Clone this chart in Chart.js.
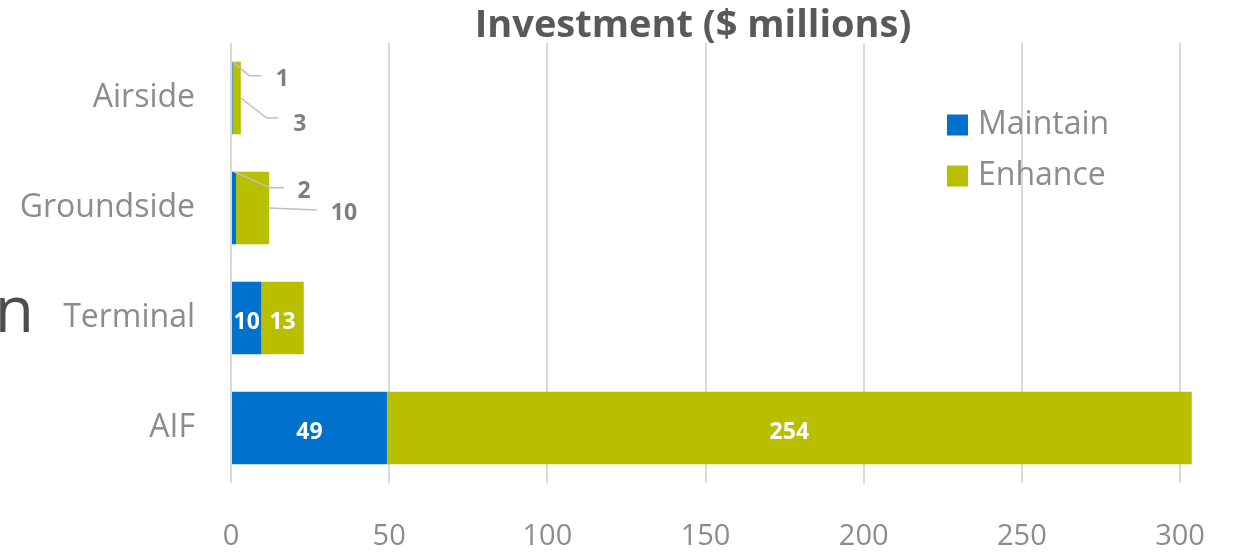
<!DOCTYPE html>
<html lang="en">
<head>
  <meta charset="UTF-8">
  <title>Investment ($ millions)</title>
  <script src="https://cdn.jsdelivr.net/npm/chart.js"></script>
  <style>
    body { margin: 0; background: #fff; }
    .wrap { width: 1235px; height: 553px; position: relative; }
  </style>
</head>
<body>
  <div class="wrap">
    <canvas id="investChart"></canvas>
  </div>

  <script>
    // Chart data
    const categories = ['Airside', 'Groundside', 'Terminal', 'AIF'];
    const maintain = [0.5, 1.6, 9.6, 49.3];
    const enhance = [2.6, 10.4, 13.4, 254.4];
    const xTicks = [0, 50, 100, 150, 200, 250, 300];

    const colors = {
      maintain: '#0072CE',
      enhance: '#B7BF00',
      grid: '#D9D9D9',
      text: '#8C8C8C',
      title: '#595959',
      outLabel: '#7F7F7F',
      leader: '#BFBFBF'
    };
    const FONT = "'Open Sans', 'DejaVu Sans', sans-serif";

    // small bars get their label outside with a leader line
    // offsets are relative to the anchor point on the bar
    const callouts = {
      '0-0': { anchor: 'top', pts: [[17, 14], [29, 14]], label: [50, 18] },
      '0-1': { anchor: 'top', pts: [[36, 16], [50, 16]], label: [70, 20] },
      '1-0': { anchor: 'end', pts: [[26, 20], [37, 20]], label: [59, 26] },
      '1-1': { anchor: 'end', pts: [[48, 2]], label: [75, 5] }
    };

    const decorPlugin = {
      id: 'decor',
      afterDatasetsDraw(chart) {
        const ctx = chart.ctx;
        ctx.save();

        // labels on bars
        chart.data.datasets.forEach((ds, di) => {
          const meta = chart.getDatasetMeta(di);
          meta.data.forEach((bar, i) => {
            const txt = String(Math.round(ds.data[i]));
            const c = callouts[di + '-' + i];
            ctx.font = 'bold 23px ' + FONT;
            ctx.textAlign = 'center';
            ctx.textBaseline = 'middle';
            if (c) {
              const left = Math.min(bar.x, bar.base);
              const right = Math.max(bar.x, bar.base);
              let ax, ay;
              if (c.anchor === 'top') {
                ax = (left + right) / 2;
                ay = bar.y - bar.height / 2;
              } else {
                ax = right;
                ay = bar.y;
              }
              ctx.strokeStyle = colors.leader;
              ctx.lineWidth = 1.5;
              ctx.beginPath();
              ctx.moveTo(ax, ay);
              c.pts.forEach(p => ctx.lineTo(ax + p[0], ay + p[1]));
              ctx.stroke();
              ctx.fillStyle = colors.outLabel;
              ctx.fillText(txt, ax + c.label[0], ay + c.label[1]);
            } else {
              ctx.fillStyle = '#FFFFFF';
              ctx.fillText(txt, (bar.x + bar.base) / 2, bar.y + 4);
            }
          });
        });

        // title
        ctx.fillStyle = colors.title;
        ctx.font = 'bold 38px ' + FONT;
        ctx.textAlign = 'center';
        ctx.textBaseline = 'middle';
        ctx.fillText('Investment ($ millions)', 693, 26);

        // legend
        ctx.font = '32px ' + FONT;
        ctx.textAlign = 'left';
        chart.data.datasets.forEach((ds, di) => {
          const y = 125 + di * 51;
          ctx.fillStyle = ds.backgroundColor;
          ctx.fillRect(947, y - 10.5, 21, 21);
          ctx.fillStyle = colors.text;
          ctx.fillText(ds.label, 978, y);
        });

        // cut-off text at left edge of slide
        ctx.fillStyle = '#4D4D4D';
        ctx.font = '64px ' + FONT;
        ctx.textAlign = 'right';
        ctx.textBaseline = 'alphabetic';
        ctx.fillText('n', 34, 332);

        ctx.restore();
      }
    };

    new Chart(document.getElementById('investChart').getContext('2d'), {
      type: 'bar',
      data: {
        labels: categories,
        datasets: [
          {
            label: 'Maintain',
            data: maintain,
            backgroundColor: colors.maintain,
            barPercentage: 0.66,
            categoryPercentage: 1
          },
          {
            label: 'Enhance',
            data: enhance,
            backgroundColor: colors.enhance,
            barPercentage: 0.66,
            categoryPercentage: 1
          }
        ]
      },
      options: {
        indexAxis: 'y',
        responsive: true,
        maintainAspectRatio: false,
        animation: false,
        layout: { padding: { top: 43, right: 36, left: 0, bottom: 0 } },
        plugins: {
          legend: { display: false },
          title: { display: false },
          tooltip: { enabled: false }
        },
        scales: {
          x: {
            stacked: true,
            min: 0,
            max: 306,
            afterBuildTicks: scale => {
              scale.ticks = xTicks.map(v => ({ value: v }));
            },
            afterFit: scale => {
              scale.height = 70;
              scale.paddingLeft = 0;
              scale.paddingRight = 0;
            },
            grid: { color: colors.grid, lineWidth: 2, drawTicks: false },
            border: { display: false },
            ticks: {
              padding: 36,
              color: colors.text,
              font: { family: FONT, size: 29 }
            }
          },
          y: {
            stacked: true,
            afterFit: scale => {
              scale.width = 231;
              scale.paddingTop = 0;
              scale.paddingBottom = 0;
            },
            grid: { display: false, drawTicks: false },
            border: { display: false },
            ticks: {
              padding: 36,
              color: colors.text,
              font: { family: FONT, size: 32 }
            }
          }
        }
      },
      plugins: [decorPlugin]
    });
  </script>
</body>
</html>
